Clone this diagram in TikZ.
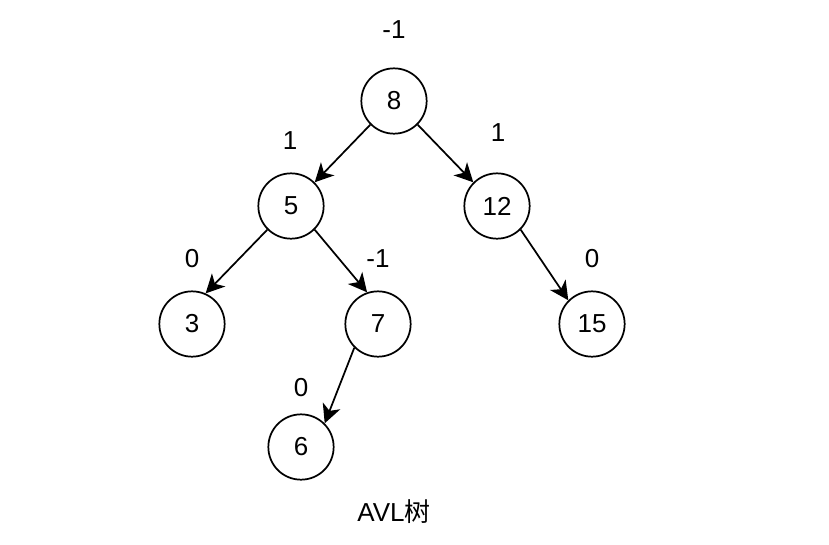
\documentclass[tikz,border=0pt]{standalone}
\usepackage{fontspec}
\setmainfont{Liberation Sans}
\newfontfamily\cjk{Noto Sans CJK SC}
\usetikzlibrary{arrows.meta}

\begin{document}
\begin{tikzpicture}[
  x=0.75pt, y=-0.75pt,
  key/.style={draw, circle, line width=1.3pt, minimum size=49pt, inner sep=0pt, font=\fontsize{19.5}{23}\selectfont},
  bal/.style={font=\fontsize{19.5}{23}\selectfont},
  link/.style={line width=1.3pt, -{Stealth[length=14pt, width=14pt, inset=4pt]}},
]
\useasboundingbox (0,0) rectangle (829,544);

% tree nodes
\node[key] (n8)  at (394,101) {8};
\node[key] (n5)  at (291,206) {5};
\node[key] (n12) at (497,206) {12};
\node[key] (n3)  at (192,324) {3};
\node[key] (n7)  at (378,324) {7};
\node[key] (n15) at (592,324) {15};
\node[key] (n6)  at (301,447) {6};

% balance factors
\node[bal] (b8)  at (394,30)  {-1};
\node[bal] (b5)  at (290,141) {1};
\node[bal] (b12) at (498,133) {1};
\node[bal] (b3)  at (192,259) {0};
\node[bal] (b7)  at (378,259) {-1};
\node[bal] (b15) at (592,259) {0};
\node[bal] (b6)  at (301,388) {0};

\node[bal] (title) at (394,512) {AVL{\cjk 树}};

\draw[link] (n8.225) -- (n5.45);
\draw[link] (n8.315) -- (n12.135);
\draw[link] (n5.225) -- (n3.66);
\draw[link] (n5.315) -- (n7.109);
\draw[link] (n12.315) -- (n15.135);
\draw[link] (n7.225) -- (n6.45);
\end{tikzpicture}
\end{document}
